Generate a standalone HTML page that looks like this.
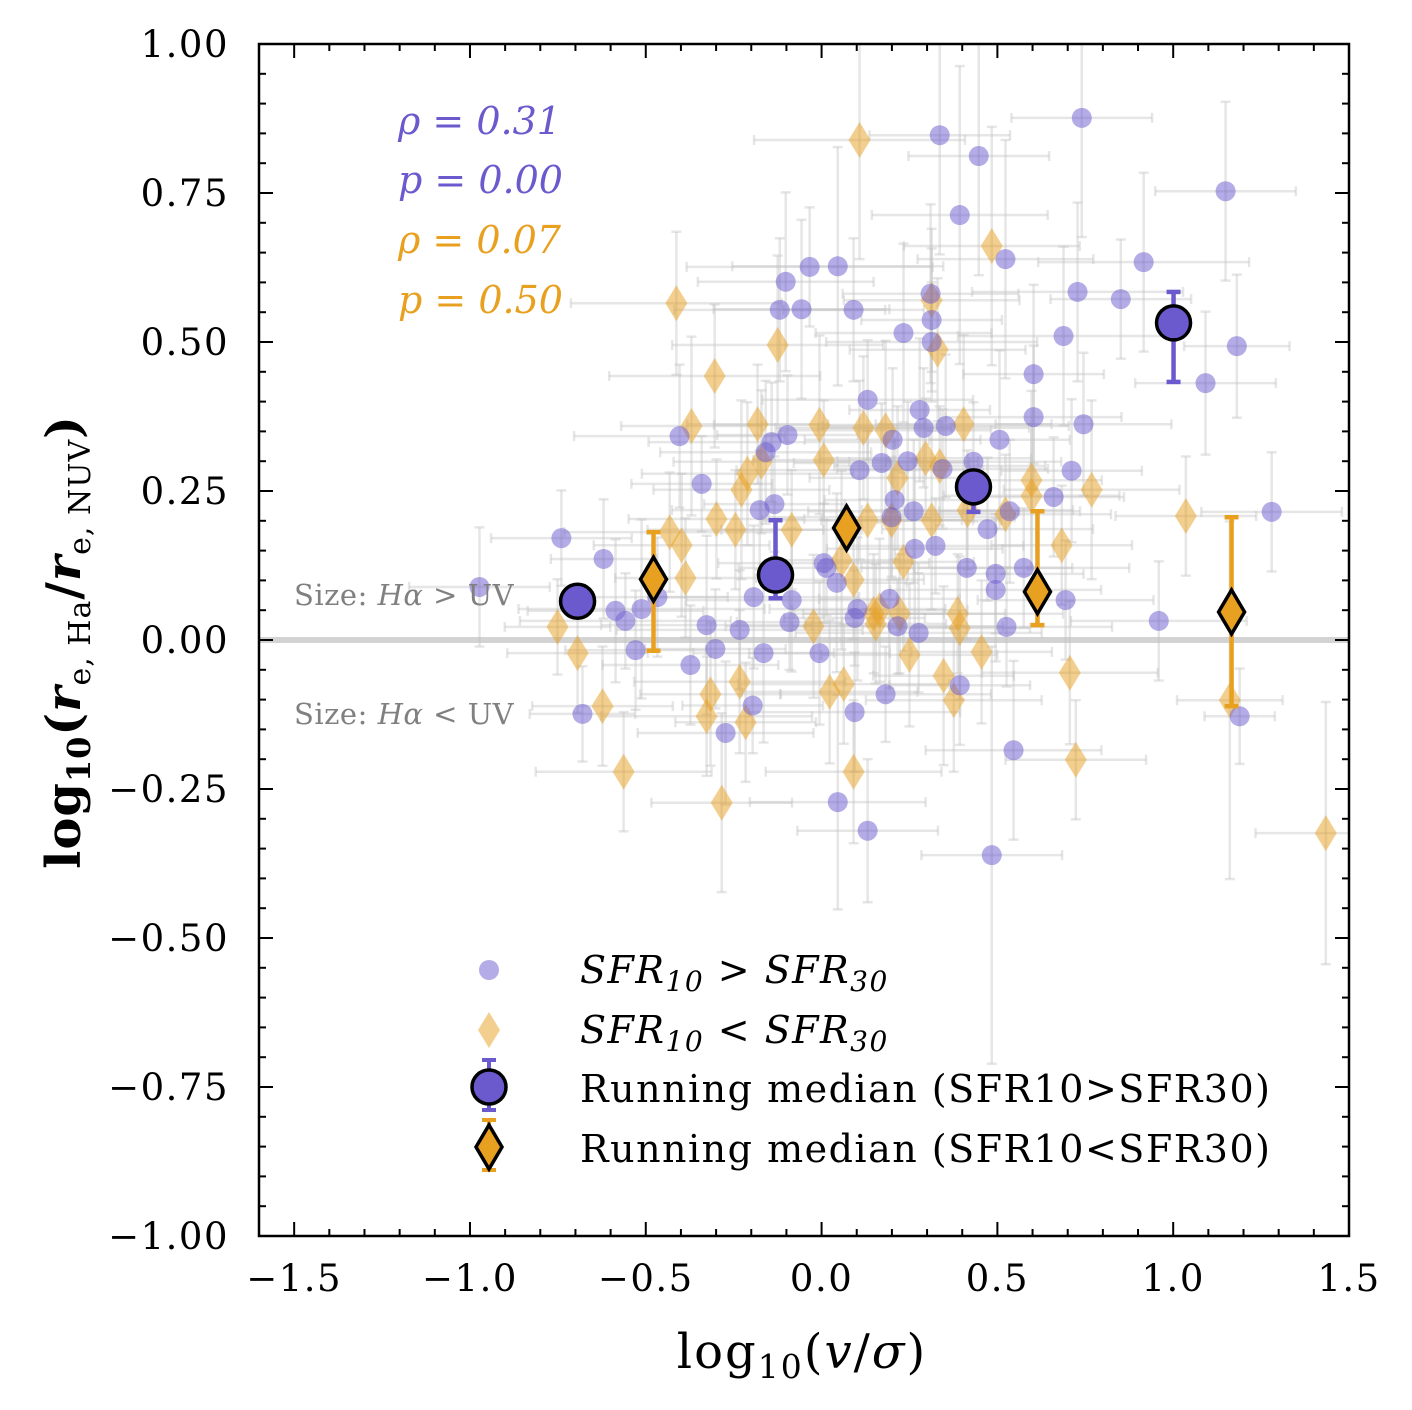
<!DOCTYPE html>
<html><head><meta charset="utf-8"><style>
body{margin:0;background:#fff}
svg{display:block;font-family:"DejaVu Serif","Liberation Serif",serif}
</style></head><body>
<svg id="c" width="1412" height="1410" viewBox="0 0 1412 1410" xmlns="http://www.w3.org/2000/svg"><defs><clipPath id="pc"><rect x="259" y="44" width="1090" height="1192"/></clipPath></defs></svg>
<script>
// ---- data ----
const purpleX=[-0.74,-0.62,-0.586,-0.558,-0.529,-0.512,-0.467,-0.68,-0.404,-0.373,-0.341,-0.327,-0.302,-0.273,-0.233,-0.196,-0.193,-0.176,-0.165,-0.159,-0.142,-0.134,-0.102,-0.119,-0.097,-0.091,-0.085,-0.057,-0.034,-0.006,0.006,0.014,0.043,0.046,0.046,0.091,0.094,0.094,0.102,0.108,0.131,0.131,0.171,0.182,0.193,0.199,0.202,0.208,0.216,0.233,0.245,0.262,0.265,0.276,0.279,0.29,0.31,0.313,0.313,0.324,0.336,0.344,0.353,0.393,0.393,0.413,0.432,0.447,0.472,0.484,0.495,0.495,0.506,0.523,0.526,0.535,0.546,0.575,0.603,0.603,0.66,0.688,0.694,0.711,0.728,0.74,0.745,0.851,0.916,0.959,1.092,1.149,1.181,1.189,1.28,-0.973];
const purpleY=[0.171,0.136,0.049,0.032,-0.017,0.052,0.072,-0.124,0.342,-0.042,0.262,0.025,-0.015,-0.156,0.017,-0.11,0.072,0.218,-0.022,0.315,0.332,0.228,0.601,0.554,0.344,0.03,0.067,0.555,0.626,-0.022,0.129,0.121,0.096,0.627,-0.272,0.554,-0.121,0.037,0.052,0.285,0.403,-0.32,0.297,-0.091,0.069,0.206,0.336,0.235,0.023,0.515,0.3,0.216,0.153,0.012,0.386,0.356,0.581,0.537,0.5,0.158,0.847,0.287,0.359,0.713,-0.076,0.121,0.299,0.812,0.186,-0.361,0.111,0.084,0.336,0.639,0.022,0.216,-0.185,0.121,0.446,0.374,0.24,0.51,0.067,0.284,0.584,0.876,0.362,0.572,0.634,0.032,0.431,0.753,0.493,-0.128,0.215,0.089];
const orangeX=[-0.751,-0.694,-0.623,-0.563,-0.413,-0.387,-0.398,-0.432,-0.37,-0.304,-0.299,-0.316,-0.327,-0.284,-0.245,-0.233,-0.216,-0.228,-0.211,-0.182,-0.171,-0.125,-0.085,-0.023,-0.006,0.006,0.023,0.063,0.057,0.091,0.108,0.091,0.119,0.131,0.154,0.165,0.182,0.199,0.216,0.222,0.233,0.25,0.296,0.313,0.33,0.336,0.347,0.376,0.387,0.393,0.404,0.415,0.455,0.484,0.523,0.597,0.597,0.683,0.706,0.723,0.768,1.036,1.161,1.434,0.313,0.148];
const orangeY=[0.022,-0.022,-0.111,-0.221,0.565,0.104,0.159,0.181,0.359,0.443,0.203,-0.091,-0.128,-0.273,0.185,-0.07,-0.138,0.252,0.279,0.362,0.299,0.495,0.185,0.023,0.361,0.302,-0.087,-0.074,0.134,-0.221,0.839,0.101,0.356,0.201,0.027,0.05,0.352,0.201,0.272,0.044,0.131,-0.025,0.305,0.201,0.487,0.292,-0.06,-0.101,0.044,0.02,0.362,0.218,-0.02,0.661,0.211,0.268,0.242,0.159,-0.055,-0.201,0.252,0.208,-0.101,-0.324,0.57,0.044];
const purpleXErr=[0.2,0.15,0.25,0.3,0.2,0.35,0.2,0.15,0.3,0.25,0.2,0.3,0.2,0.25,0.35,0.2,0.3,0.25,0.2,0.3,0.35,0.2,0.25,0.3,0.2,0.15,0.3,0.25,0.35,0.2,0.3,0.25,0.2,0.3,0.25,0.2,0.3,0.2,0.25,0.35,0.3,0.2,0.25,0.3,0.2,0.35,0.25,0.2,0.3,0.25,0.2,0.3,0.25,0.35,0.2,0.3,0.25,0.2,0.3,0.25,0.2,0.3,0.35,0.25,0.2,0.3,0.25,0.2,0.3,0.2,0.25,0.3,0.2,0.25,0.3,0.2,0.25,0.3,0.2,0.25,0.2,0.3,0.25,0.2,0.3,0.2,0.25,0.2,0.3,0.25,0.2,0.2,0.15,0.1,0.2,0.2];
const purpleYErr=[0.08,0.1,0.12,0.08,0.1,0.15,0.1,0.08,0.12,0.1,0.08,0.15,0.1,0.12,0.1,0.08,0.12,0.1,0.15,0.12,0.1,0.08,0.15,0.12,0.1,0.08,0.12,0.15,0.1,0.12,0.1,0.08,0.15,0.2,0.18,0.12,0.1,0.08,0.12,0.15,0.1,0.12,0.1,0.08,0.15,0.1,0.12,0.1,0.08,0.15,0.1,0.12,0.15,0.1,0.12,0.1,0.15,0.12,0.1,0.08,0.2,0.1,0.12,0.25,0.1,0.12,0.1,0.2,0.12,0.35,0.1,0.12,0.15,0.2,0.1,0.12,0.15,0.1,0.15,0.12,0.1,0.15,0.1,0.12,0.15,0.2,0.12,0.1,0.15,0.1,0.12,0.15,0.12,0.08,0.1,0.1];
const orangeXErr=[0.15,0.2,0.2,0.25,0.3,0.2,0.25,0.3,0.2,0.3,0.25,0.2,0.3,0.2,0.25,0.3,0.2,0.25,0.3,0.2,0.25,0.3,0.2,0.25,0.3,0.2,0.25,0.3,0.2,0.25,0.3,0.2,0.25,0.3,0.2,0.25,0.3,0.2,0.25,0.3,0.2,0.25,0.3,0.2,0.25,0.3,0.2,0.25,0.3,0.2,0.25,0.3,0.2,0.25,0.3,0.2,0.25,0.2,0.25,0.2,0.25,0.2,0.15,0.2,0.25,0.2];
const orangeYErr=[0.08,0.1,0.1,0.1,0.12,0.1,0.12,0.1,0.15,0.12,0.1,0.12,0.1,0.15,0.1,0.12,0.1,0.15,0.12,0.1,0.12,0.15,0.1,0.12,0.15,0.1,0.12,0.1,0.15,0.12,0.2,0.1,0.12,0.15,0.1,0.12,0.15,0.1,0.12,0.1,0.15,0.12,0.1,0.15,0.12,0.1,0.15,0.12,0.1,0.12,0.15,0.1,0.12,0.2,0.1,0.15,0.12,0.1,0.12,0.1,0.15,0.1,0.3,0.22,0.12,0.1];
const medPurpleX=[-0.694,-0.131,0.432,1.001];
const medPurpleY=[0.065,0.109,0.257,0.532];
const medPurpleLo=[0.065,0.07,0.215,0.433];
const medPurpleHi=[0.065,0.201,0.275,0.584];
const medOrangeX=[-0.478,0.071,0.614,1.166];
const medOrangeY=[0.102,0.188,0.081,0.047];
const medOrangeLo=[-0.018,0.188,0.025,-0.111];
const medOrangeHi=[0.181,0.188,0.216,0.206];
const xTicks=[-1.5,-1.0,-0.5,0.0,0.5,1.0,1.5];
const xTickLabels=["\u22121.5","\u22121.0","\u22120.5","0.0","0.5","1.0","1.5"];
const yTicks=[1,0.75,0.5,0.25,0,-0.25,-0.5,-0.75,-1];
const yTickLabels=["1.00","0.75","0.50","0.25","0.00","\u22120.25","\u22120.50","\u22120.75","\u22121.00"];

const L=259,R=1349,T=44,B=1236,X0=-1.6,X1=1.5,Y0=-1,Y1=1;
const sx=v=>L+(v-X0)/(X1-X0)*(R-L);
const sy=v=>B-(v-Y0)/(Y1-Y0)*(B-T);
const NS="http://www.w3.org/2000/svg";
const svg=document.getElementById('c');
function mk(tag,attrs,parent){const e=document.createElementNS(NS,tag);for(const k in attrs)e.setAttribute(k,attrs[k]);(parent||svg).appendChild(e);return e;}
const PC="#6a5acd",OC="#e8a020";

let z=mk('line',{x1:L,x2:R,y1:sy(0),y2:sy(0),stroke:"#d3d3d3","stroke-width":6});



const eg=mk('g',{stroke:"#c0c0c0","stroke-opacity":0.4,"stroke-width":2.5,"clip-path":"url(#pc)"});


function errs(xs,ys,xe,ye){for(let i=0;i<xs.length;i++){const x=sx(xs[i]),y=sy(ys[i]);
 const x1=sx(xs[i]-xe[i]),x2=sx(xs[i]+xe[i]),y1=sy(ys[i]+ye[i]),y2=sy(ys[i]-ye[i]);
 mk('line',{x1:x1,x2:x2,y1:y,y2:y},eg);mk('line',{x1:x,x2:x,y1:y1,y2:y2},eg);
 mk('line',{x1:x1,x2:x1,y1:y-5,y2:y+5},eg);mk('line',{x1:x2,x2:x2,y1:y-5,y2:y+5},eg);
 mk('line',{x1:x-5,x2:x+5,y1:y1,y2:y1},eg);mk('line',{x1:x-5,x2:x+5,y1:y2,y2:y2},eg);}}
errs(purpleX,purpleY,purpleXErr,purpleYErr);errs(orangeX,orangeY,orangeXErr,orangeYErr);

const dia=(x,y,w,h)=>`${x},${y-h} ${x+w},${y} ${x},${y+h} ${x-w},${y}`;
for(let i=0;i<orangeX.length;i++){const d=mk('polygon',{points:dia(sx(orangeX[i]),sy(orangeY[i]),11,18),fill:OC,"fill-opacity":0.5});

}
for(let i=0;i<purpleX.length;i++){const c=mk('circle',{cx:sx(purpleX[i]),cy:sy(purpleY[i]),r:10,fill:PC,"fill-opacity":0.5});

}

function medErr(x,lo,hi,col){if(lo===hi)return;const a=sx(x);mk('line',{x1:a,x2:a,y1:sy(hi),y2:sy(lo),stroke:col,"stroke-width":4.5});
mk('line',{x1:a-7,x2:a+7,y1:sy(hi),y2:sy(hi),stroke:col,"stroke-width":4.5});mk('line',{x1:a-7,x2:a+7,y1:sy(lo),y2:sy(lo),stroke:col,"stroke-width":4.5});}
for(let i=0;i<medPurpleX.length;i++){medErr(medPurpleX[i],medPurpleLo[i],medPurpleHi[i],PC);
const c=mk('circle',{cx:sx(medPurpleX[i]),cy:sy(medPurpleY[i]),r:17,fill:PC,stroke:"#000","stroke-width":3.5});

}
for(let i=0;i<medOrangeX.length;i++){medErr(medOrangeX[i],medOrangeLo[i],medOrangeHi[i],OC);
const d=mk('polygon',{points:dia(sx(medOrangeX[i]),sy(medOrangeY[i]),13,22),fill:OC,stroke:"#000","stroke-width":3.5});

}

const fr=mk('rect',{x:L,y:T,width:R-L,height:B-T,fill:"none",stroke:"#000","stroke-width":2.5});


const tg=mk('g',{stroke:"#000","stroke-width":2});
for(let v=-16;v<=15;v++){const x=sx(v/10),len=(v%5===0)?14:7;mk('line',{x1:x,x2:x,y1:B,y2:B-len},tg);mk('line',{x1:x,x2:x,y1:T,y2:T+len},tg);}
for(let v=-20;v<=20;v++){const y=sy(v/20),len=(v%5===0)?14:7;mk('line',{x1:L,x2:L+len,y1:y,y2:y},tg);mk('line',{x1:R,x2:R-len,y1:y,y2:y},tg);}
xTicks.forEach((v,i)=>{const t=mk('text',{x:sx(v),y:1291,"text-anchor":"middle","font-size":37,"letter-spacing":1.5});t.textContent=xTickLabels[i];

});
yTicks.forEach((v,i)=>{const t=mk('text',{x:229,y:sy(v)+13,"text-anchor":"end","font-size":37,"letter-spacing":1.5});t.textContent=yTickLabels[i];

});
</script>
<script>
const s2=document.getElementById('c');
s2.insertAdjacentHTML('beforeend',`
<text x="802" y="1368" text-anchor="middle" font-size="48" letter-spacing="2">log<tspan font-size="33" dy="10">10</tspan><tspan dy="-10">(</tspan><tspan font-style="italic">v</tspan>/<tspan font-style="italic">σ</tspan>)</text>
<text transform="translate(80,642) rotate(-90)" text-anchor="middle" font-size="48" font-weight="bold" letter-spacing="1">log<tspan font-size="32" dy="10">10</tspan><tspan dy="-10">(</tspan><tspan font-style="italic">r</tspan><tspan font-size="30" font-weight="normal" dy="10">e, Ha</tspan><tspan dy="-10">/</tspan><tspan font-style="italic">r</tspan><tspan font-size="30" font-weight="normal" dy="10">e, NUV</tspan><tspan dy="-10">)</tspan></text>
<g font-size="38" font-style="italic">
<text x="398" y="134" fill="#6a5acd">ρ = 0.31</text>
<text x="398" y="193" fill="#6a5acd">p = 0.00</text>
<text x="398" y="253" fill="#e8a020">ρ = 0.07</text>
<text x="398" y="313" fill="#e8a020">p = 0.50</text>
</g>
<text x="294" y="605" font-size="29" fill="#808080" letter-spacing="0.5">Size: <tspan font-style="italic">Hα</tspan> &gt; UV</text>
<text x="294" y="724" font-size="29" fill="#808080" letter-spacing="0.5">Size: <tspan font-style="italic">Hα</tspan> &lt; UV</text>
<g font-size="38" letter-spacing="1.5">
<circle cx="489" cy="970" r="10" fill="#6a5acd" fill-opacity="0.5"/>
<text x="580" y="983" font-style="italic">SFR<tspan font-size="28" dy="8">10</tspan><tspan dy="-8"> &gt; SFR</tspan><tspan font-size="28" dy="8">30</tspan></text>
<polygon points="489,1012 500,1030 489,1048 478,1030" fill="#e8a020" fill-opacity="0.5"/>
<text x="580" y="1043" font-style="italic">SFR<tspan font-size="28" dy="8">10</tspan><tspan dy="-8"> &lt; SFR</tspan><tspan font-size="28" dy="8">30</tspan></text>
<line x1="489" x2="489" y1="1060" y2="1110" stroke="#6a5acd" stroke-width="4"/>
<line x1="482" x2="496" y1="1060" y2="1060" stroke="#6a5acd" stroke-width="4"/>
<line x1="482" x2="496" y1="1110" y2="1110" stroke="#6a5acd" stroke-width="4"/>
<circle cx="489" cy="1087" r="17" fill="#6a5acd" stroke="#000" stroke-width="3.5"/>
<text x="580" y="1102">Running median (SFR10&gt;SFR30)</text>
<line x1="489" x2="489" y1="1120" y2="1170" stroke="#e8a020" stroke-width="4"/>
<line x1="482" x2="496" y1="1120" y2="1120" stroke="#e8a020" stroke-width="4"/>
<line x1="482" x2="496" y1="1170" y2="1170" stroke="#e8a020" stroke-width="4"/>
<polygon points="489,1125 502,1147 489,1169 476,1147" fill="#e8a020" stroke="#000" stroke-width="3.5"/>
<text x="580" y="1162">Running median (SFR10&lt;SFR30)</text>
</g>`);
</script>
</body></html>
